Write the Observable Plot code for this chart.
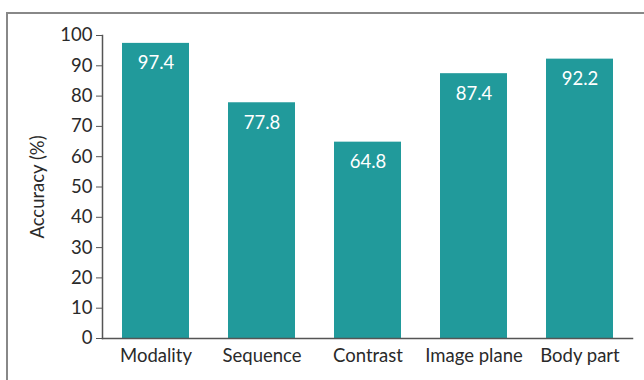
<!DOCTYPE html>
<html><head><meta charset="utf-8">
<script src="https://cdn.jsdelivr.net/npm/d3@7"></script>
<script src="https://cdn.jsdelivr.net/npm/@observablehq/plot@0.6"></script>
<style>
html,body{margin:0;padding:0;background:#fff;}
#wrap{position:relative;width:644px;height:380px;overflow:hidden;}
#frame{position:absolute;left:6px;top:12px;width:700px;height:500px;border-left:2px solid #888;border-top:2px solid #888;}
#chart{position:absolute;left:0;top:0;}
</style></head>
<body><div id="wrap"><div id="frame"></div><div id="chart"></div></div>
<script>
const categories = ["Modality","Sequence","Contrast","Image plane","Body part"];
const accuracy = [97.4, 77.8, 64.8, 87.4, 92.2];
const yTicks = [0,10,20,30,40,50,60,70,80,90,100];
const data = categories.map((c,i)=>({category:c, value:accuracy[i]}));
const font = "Lato, sans-serif";
const fs = 18.5;
const chart = Plot.plot({
  width:644, height:380,
  marginLeft:102, marginTop:35, marginBottom:42, marginRight:12,
  style:{fontFamily:font, fontSize:fs+"px", color:"#2a2a2a", background:"transparent"},
  x:{domain:categories, paddingInner:0.37, paddingOuter:0.185, label:null},
  y:{domain:[0,100], label:null},
  marks:[
    Plot.barY(data,{x:"category", y:"value", fill:"#219a9b"}),
    Plot.text(data,{x:"category", y:"value", text:d=>d.value.toFixed(1), dy:20, fill:"white", fontSize:fs}),
    Plot.axisY({ticks:yTicks, tickSize:6, tickPadding:4, label:null, stroke:"#555"}),
    Plot.axisX({tickSize:0, tickPadding:10, label:null}),
    Plot.text(["Accuracy (%)"],{frameAnchor:"left", textAnchor:"middle", rotate:-90, dx:-64, fontSize:fs, fill:"#2a2a2a"}),
    Plot.frame({anchor:"left", stroke:"#555", strokeWidth:1.5}),
    Plot.frame({anchor:"bottom", stroke:"#555", strokeWidth:1.5})
  ]
});
document.getElementById("chart").appendChild(chart);
</script></body></html>
